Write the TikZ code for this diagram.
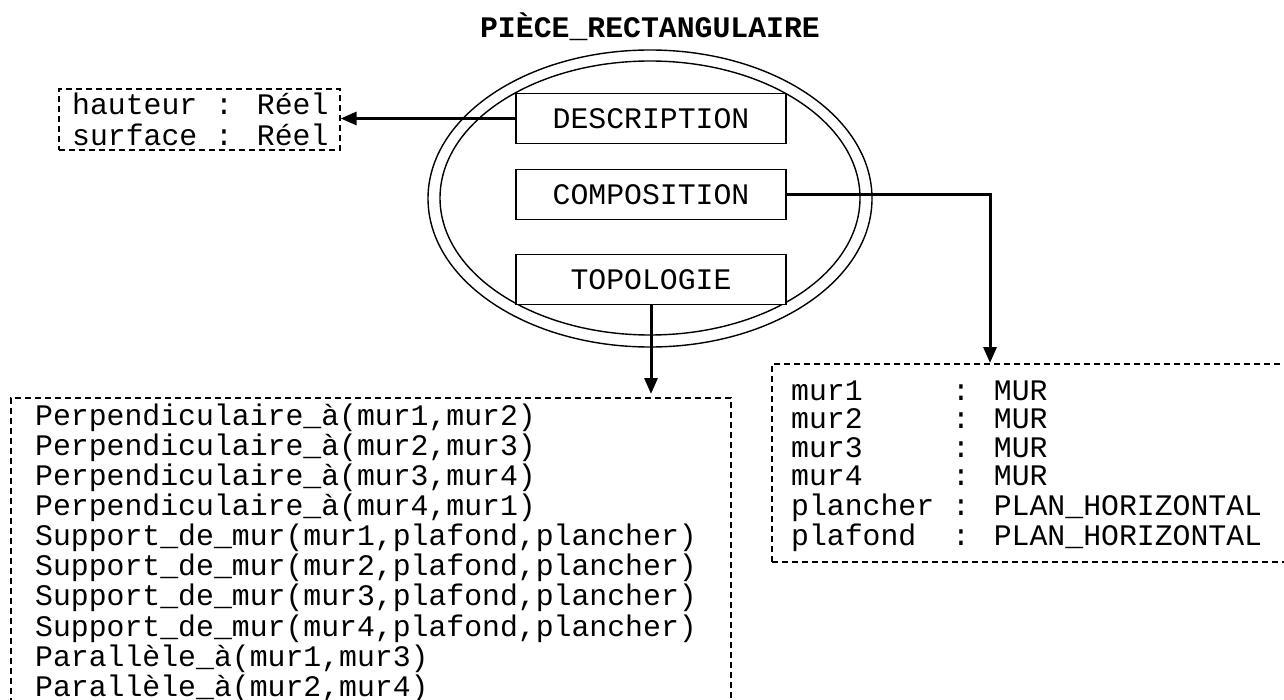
\documentclass[tikz,border=0pt]{standalone}
\usepackage{fontspec}
\newfontfamily\courfont{Liberation Mono}
\usetikzlibrary{arrows.meta,shapes.geometric}
\begin{document}
\begin{tikzpicture}[x=1pt,y=-1pt,
  txt/.style={font=\courfont\fontsize{29.8}{28.5}\selectfont},
  ring/.style={draw, ellipse, line width=1.4pt, inner sep=0pt},
  facet/.style={draw, line width=1.6pt, fill=white, minimum width=270pt,
                minimum height=50pt, inner sep=0pt, txt},
  dashbox/.style={draw, line width=1.6pt, dash pattern=on 6pt off 4pt,
                  inner sep=0pt, anchor=north west},
  listing/.style={txt, inner sep=0pt, anchor=base west},
  link/.style={line width=3pt, -{Triangle[length=16pt,width=13pt]}}]
\useasboundingbox (0,0) rectangle (1284,700);

% class name
\node[txt, anchor=base] (title) at (650,38) {\bfseries PIÈCE\_RECTANGULAIRE};

% double outline of the class
\node[ring, minimum width=444pt, minimum height=297pt] (outer) at (650,198.5) {};
\node[ring, minimum width=420pt, minimum height=274pt] (inner) at (650,198) {};

% facets
\node[facet] (desc) at (651,118.5) {DESCRIPTION};
\node[facet] (comp) at (651,194.5) {COMPOSITION};
\node[facet] (topo) at (651,279.5) {TOPOLOGIE};

% attributes
\node[dashbox, minimum width=281pt, minimum height=61pt] (attr) at (58,88) {};
\node[listing] (attrtext) at (72,115)
  {\begin{tabular}[t]{@{}l@{}}hauteur : Réel\\surface : Réel\end{tabular}};

% topological relations
\node[dashbox, minimum width=720pt, minimum height=340pt] (rel) at (10,397) {};
\node[listing] (reltext) at (35,425)
  {\begin{tabular}[t]{@{}l@{}}
   Perpendiculaire\_à(mur1,mur2)\\
   Perpendiculaire\_à(mur2,mur3)\\
   Perpendiculaire\_à(mur3,mur4)\\
   Perpendiculaire\_à(mur4,mur1)\\
   Support\_de\_mur(mur1,plafond,plancher)\\
   Support\_de\_mur(mur2,plafond,plancher)\\
   Support\_de\_mur(mur3,plafond,plancher)\\
   Support\_de\_mur(mur4,plafond,plancher)\\
   Parallèle\_à(mur1,mur3)\\
   Parallèle\_à(mur2,mur4)
   \end{tabular}};

% components
\node[dashbox, minimum width=530pt, minimum height=198pt] (parts) at (771,363) {};
\node[listing] (partstext) at (791,400)
  {\begin{tabular}[t]{@{}l@{\hspace{0.6em}}l@{}}
   mur1 & : MUR\\
   mur2 & : MUR\\
   mur3 & : MUR\\
   mur4 & : MUR\\
   plancher & : PLAN\_HORIZONTAL\\
   plafond & : PLAN\_HORIZONTAL
   \end{tabular}};

% connectors
\coordinate (drop) at ([xshift=219pt]parts.north west);
\draw[link] (desc.west) -- (desc.west -| attr.east);
\draw[link] (comp.east) -| (drop);
\draw[link, shorten >=3pt] (topo.south) -- (topo.south |- rel.north);
\end{tikzpicture}
\end{document}
